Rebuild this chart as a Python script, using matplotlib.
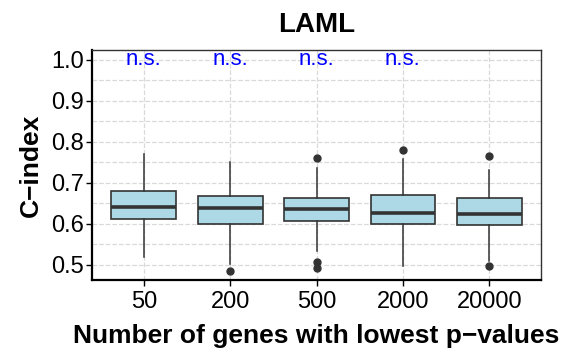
import matplotlib
matplotlib.use("Agg")
import matplotlib.pyplot as plt
from matplotlib.ticker import MultipleLocator

plt.rcParams['font.family'] = ['Liberation Sans', 'DejaVu Sans']

# box statistics
groups = ["50", "200", "500", "2000", "20000"]
q1 = [0.612, 0.600, 0.608, 0.600, 0.597]
med = [0.640, 0.638, 0.635, 0.627, 0.623]
q3 = [0.679, 0.667, 0.663, 0.670, 0.663]
whislo = [0.518, 0.503, 0.534, 0.498, 0.510]
whishi = [0.770, 0.752, 0.737, 0.757, 0.732]
fliers = [[], [0.485], [0.760, 0.508, 0.492], [0.781], [0.765, 0.498]]
labels_sig = ["n.s.", "n.s.", "n.s.", "n.s.", ""]

stats = []
for i in range(len(groups)):
    stats.append(dict(q1=q1[i], med=med[i], q3=q3[i], whislo=whislo[i],
                      whishi=whishi[i], fliers=fliers[i], label=groups[i]))

fig = plt.figure(figsize=(5.75, 3.51), dpi=100)
ax = fig.add_axes([0.16, 0.2023, 0.781, 0.6552])

pos = list(range(1, len(groups) + 1))
ax.bxp(stats, positions=pos, widths=0.75, patch_artist=True,
       boxprops=dict(facecolor='#ADD8E6', edgecolor='#333333', linewidth=1.2),
       medianprops=dict(color='#333333', linewidth=2.6),
       whiskerprops=dict(color='#333333', linewidth=1.1),
       capprops=dict(linewidth=0),
       flierprops=dict(marker='o', markerfacecolor='#333333', markeredgecolor='#333333', markersize=5),
       zorder=3)

for p, s in zip(pos, labels_sig):
    ax.text(p, 1.0, s, color='blue', fontsize=16, ha='center', va='center', zorder=4)

ax.set_xlim(0.4, 5.6)
ax.set_ylim(0.463, 1.024)
ax.yaxis.set_minor_locator(MultipleLocator(0.05))
ax.set_yticks([0.5, 0.6, 0.7, 0.8, 0.9, 1.0])
ax.set_yticklabels(["0.5", "0.6", "0.7", "0.8", "0.9", "1.0"])
ax.set_xticks(pos)
ax.set_xticklabels(groups)

ax.grid(True, which='major', linestyle='--', color='#d9d9d9', linewidth=0.9, zorder=0)
ax.grid(True, which='minor', axis='y', linestyle='--', color='#d9d9d9', linewidth=0.9, zorder=0)
ax.set_axisbelow(True)

ax.tick_params(axis='both', which='major', labelsize=17, length=4, width=1, colors='black', pad=2)
ax.tick_params(axis='x', which='major', pad=4)
ax.tick_params(axis='y', which='minor', length=0)

for side in ['left', 'bottom']:
    ax.spines[side].set_linewidth(1.6)
    ax.spines[side].set_color('black')
for side in ['top', 'right']:
    ax.spines[side].set_linewidth(1.0)
    ax.spines[side].set_color('#333333')

ax.set_title("LAML", fontsize=20, fontweight='bold', pad=13)
ax.set_xlabel("Number of genes with lowest p\u2212values", fontsize=19, fontweight='bold', labelpad=8)
ax.set_ylabel("C\u2212index", fontsize=19, fontweight='bold', labelpad=6)

fig.savefig("out.png", dpi=100)
